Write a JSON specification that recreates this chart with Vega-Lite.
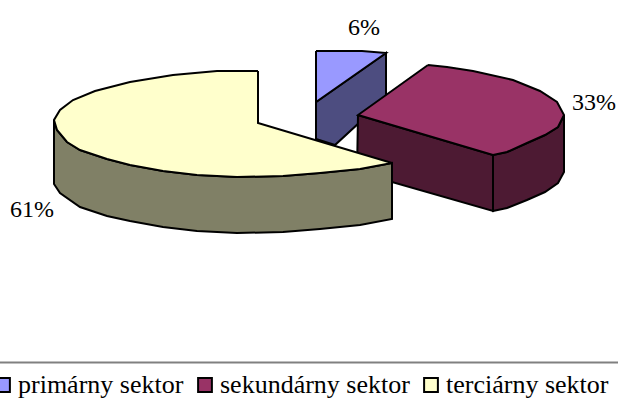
{"$schema":"https://vega.github.io/schema/vega-lite/v6.json","width":618,"height":401,"padding":0,"autosize":"none","background":"white","view":{"stroke":null},"datasets":{"pie":[
{"k":"pb","o":1,"x":316,"y":102},{"k":"pb","o":2,"x":386,"y":53},{"k":"pb","o":3,"x":386,"y":98},{"k":"pb","o":4,"x":335,"y":145},{"k":"pb","o":5,"x":316,"y":139},{"k":"pb","o":6,"x":316,"y":102},
{"k":"primárny sektor","o":1,"x":316,"y":51},{"k":"primárny sektor","o":2,"x":362,"y":51},{"k":"primárny sektor","o":3,"x":386,"y":53},{"k":"primárny sektor","o":4,"x":316,"y":102},{"k":"primárny sektor","o":5,"x":316,"y":51},
{"k":"sf","o":1,"x":358,"y":115},{"k":"sf","o":2,"x":493,"y":155},{"k":"sf","o":3,"x":493,"y":211},{"k":"sf","o":4,"x":357,"y":172},{"k":"sf","o":5,"x":358,"y":115},
{"k":"sb","o":1,"x":493,"y":155},{"k":"sb","o":2,"x":507,"y":152},{"k":"sb","o":3,"x":527,"y":143},{"k":"sb","o":4,"x":545,"y":135},{"k":"sb","o":5,"x":558,"y":127},{"k":"sb","o":6,"x":564,"y":115},{"k":"sb","o":7,"x":564,"y":172},{"k":"sb","o":8,"x":558,"y":183},{"k":"sb","o":9,"x":545,"y":192},{"k":"sb","o":10,"x":527,"y":200},{"k":"sb","o":11,"x":507,"y":208},{"k":"sb","o":12,"x":493,"y":211},{"k":"sb","o":13,"x":493,"y":155},
{"k":"sekundárny sektor","o":1,"x":428,"y":65},{"k":"sekundárny sektor","o":2,"x":447,"y":67},{"k":"sekundárny sektor","o":3,"x":473,"y":71},{"k":"sekundárny sektor","o":4,"x":513,"y":80},{"k":"sekundárny sektor","o":5,"x":540,"y":91},{"k":"sekundárny sektor","o":6,"x":557,"y":102},{"k":"sekundárny sektor","o":7,"x":564,"y":115},{"k":"sekundárny sektor","o":8,"x":558,"y":127},{"k":"sekundárny sektor","o":9,"x":545,"y":135},{"k":"sekundárny sektor","o":10,"x":527,"y":143},{"k":"sekundárny sektor","o":11,"x":507,"y":152},{"k":"sekundárny sektor","o":12,"x":493,"y":155},{"k":"sekundárny sektor","o":13,"x":358,"y":115},{"k":"sekundárny sektor","o":14,"x":428,"y":65},
{"k":"tb","o":1,"x":54,"y":120},{"k":"tb","o":2,"x":57,"y":130},{"k":"tb","o":3,"x":67,"y":142},{"k":"tb","o":4,"x":80,"y":150},{"k":"tb","o":5,"x":107,"y":159},{"k":"tb","o":6,"x":130,"y":165},{"k":"tb","o":7,"x":163,"y":171},{"k":"tb","o":8,"x":197,"y":175},{"k":"tb","o":9,"x":237,"y":177},{"k":"tb","o":10,"x":283,"y":176},{"k":"tb","o":11,"x":320,"y":173},{"k":"tb","o":12,"x":360,"y":169},{"k":"tb","o":13,"x":392,"y":163},{"k":"tb","o":14,"x":392,"y":219},{"k":"tb","o":15,"x":360,"y":225},{"k":"tb","o":16,"x":320,"y":229},{"k":"tb","o":17,"x":283,"y":232},{"k":"tb","o":18,"x":237,"y":233},{"k":"tb","o":19,"x":197,"y":231},{"k":"tb","o":20,"x":163,"y":227},{"k":"tb","o":21,"x":130,"y":221},{"k":"tb","o":22,"x":107,"y":216},{"k":"tb","o":23,"x":80,"y":207},{"k":"tb","o":24,"x":60,"y":193},{"k":"tb","o":25,"x":54,"y":184},{"k":"tb","o":26,"x":54,"y":120},
{"k":"terciárny sektor","o":1,"x":258,"y":71},{"k":"terciárny sektor","o":2,"x":217,"y":71},{"k":"terciárny sektor","o":3,"x":173,"y":75},{"k":"terciárny sektor","o":4,"x":130,"y":82},{"k":"terciárny sektor","o":5,"x":95,"y":91},{"k":"terciárny sektor","o":6,"x":73,"y":100},{"k":"terciárny sektor","o":7,"x":60,"y":110},{"k":"terciárny sektor","o":8,"x":54,"y":120},{"k":"terciárny sektor","o":9,"x":57,"y":130},{"k":"terciárny sektor","o":10,"x":67,"y":142},{"k":"terciárny sektor","o":11,"x":80,"y":150},{"k":"terciárny sektor","o":12,"x":107,"y":159},{"k":"terciárny sektor","o":13,"x":130,"y":165},{"k":"terciárny sektor","o":14,"x":163,"y":171},{"k":"terciárny sektor","o":15,"x":197,"y":175},{"k":"terciárny sektor","o":16,"x":237,"y":177},{"k":"terciárny sektor","o":17,"x":283,"y":176},{"k":"terciárny sektor","o":18,"x":320,"y":173},{"k":"terciárny sektor","o":19,"x":360,"y":169},{"k":"terciárny sektor","o":20,"x":392,"y":163},{"k":"terciárny sektor","o":21,"x":258,"y":123},{"k":"terciárny sektor","o":22,"x":258,"y":71}
],"labels":[{"t":"6%","x":364,"y":28},{"t":"33%","x":594,"y":103},{"t":"61%","x":32,"y":210}]},
"layer":[
{"data":{"name":"pie"},"mark":{"type":"line","stroke":"black","strokeWidth":2,"strokeJoin":"miter"},"encoding":{"x":{"field":"x","type":"quantitative","scale":{"domain":[0,618],"nice":false,"zero":false},"axis":null},"y":{"field":"y","type":"quantitative","scale":{"domain":[401,0],"nice":false,"zero":false},"axis":null},"order":{"field":"o","type":"quantitative"},"detail":{"field":"k"},"fill":{"field":"k","type":"nominal","scale":{"domain":["primárny sektor","sekundárny sektor","terciárny sektor","pb","sf","sb","tb"],"range":["#9999FF","#993366","#FFFFCC","#4D4D80","#4D1A33","#4D1A33","#808066"]},"legend":{"values":["primárny sektor","sekundárny sektor","terciárny sektor"],"title":null,"orient":"none","legendX":-10,"legendY":372,"direction":"horizontal","symbolType":"square","symbolSize":190,"symbolStrokeColor":"black","symbolStrokeWidth":2,"labelFont":"Liberation Serif","labelFontSize":26,"labelColor":"black","labelLimit":0,"labelOffset":2,"columnPadding":8,"columns":3,"symbolOffset":0}}}},
{"data":{"name":"labels"},"mark":{"type":"text","font":"Liberation Serif","fontSize":24,"color":"black"},"encoding":{"x":{"field":"x","type":"quantitative"},"y":{"field":"y","type":"quantitative"},"text":{"field":"t"}}},
{"data":{"values":[{"y":362.5}]},"mark":{"type":"rule","color":"#808080","strokeWidth":2},"encoding":{"y":{"field":"y","type":"quantitative"}}}
]}
